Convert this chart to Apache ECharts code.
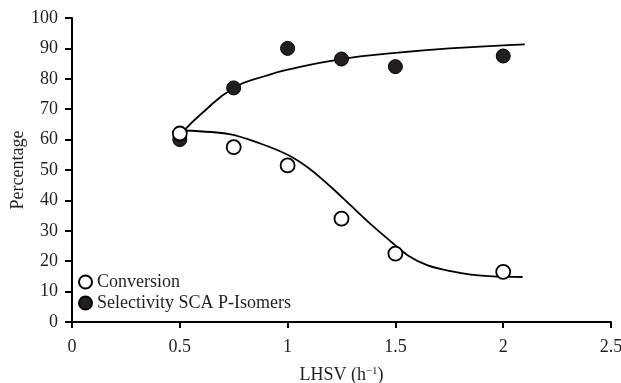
<!DOCTYPE html>
<html>
<head>
	<meta charset="utf-8">
	<script src="https://cdn.jsdelivr.net/npm/echarts@6/dist/echarts.min.js"></script>
	<title>LHSV</title>
</head>
<body>
<style>
	html, body, #main {
		width: 621px;
		height: 383px;
		margin: 0;
	}
</style>
<div id="main"></div>
<script type="text/javascript">
    // measured points
    var conversion = [[0.5, 62], [0.75, 57.5], [1.0, 51.5], [1.25, 34], [1.5, 22.5], [2.0, 16.5]];
    var selectivity = [[0.5, 60], [0.75, 77], [1.0, 90], [1.25, 86.5], [1.5, 84], [2.0, 87.5]];

    // fitted curves
    var conversionFit = [[0.52, 63], [0.73, 61.8], [0.87, 58.8], [1.0, 55], [1.1, 50.5], [1.2, 44.5],
        [1.29, 38.5], [1.38, 32.5], [1.47, 27], [1.56, 21.8], [1.65, 18.6], [1.75, 16.8],
        [1.85, 15.6], [1.95, 15], [2.09, 14.8]];
    var selectivityFit = [[0.52, 63], [0.6, 68.5], [0.75, 77], [0.9, 81], [1.0, 83], [1.25, 86.5],
        [1.5, 88.5], [1.75, 90], [2.0, 91], [2.1, 91.3]];

    var ink = '#231f20';
    var font = 'Liberation Serif';

    var myChart = echarts.init(document.getElementById('main'));

    var option = {
        animation: false,
        textStyle: { fontFamily: font, color: ink },
        grid: { left: 72, right: 10, top: 18, bottom: 61, outerBoundsMode: 'none', containLabel: false },
        legend: {
            orient: 'vertical',
            left: 73,
            top: 268,
            itemWidth: 13,
            itemHeight: 13,
            itemGap: 3,
            textStyle: { fontFamily: font, fontSize: 18, color: ink },
            data: [
                { name: 'Conversion', icon: 'circle' },
                { name: 'Selectivity SCA P-Isomers', icon: 'circle' }
            ]
        },
        xAxis: {
            type: 'value',
            min: 0, max: 2.5, interval: 0.5,
            name: '{t|LHSV (h}{s|−1}{t|)}',
            nameLocation: 'middle',
            nameGap: 44,
            nameMoveOverlap: false,
            nameTextStyle: {
                rich: {
                    t: { fontFamily: font, fontSize: 18, color: ink },
                    s: { fontFamily: font, fontSize: 11, color: ink, verticalAlign: 'top', padding: [0, 0, 8, 0] }
                }
            },
            axisLine: { lineStyle: { color: '#000', width: 2 } },
            axisTick: { length: 6, lineStyle: { color: '#000', width: 2 } },
            axisLabel: { fontFamily: font, fontSize: 18, color: ink, margin: 16 },
            splitLine: { show: false }
        },
        yAxis: {
            type: 'value',
            min: 0, max: 100, interval: 10,
            name: 'Percentage',
            nameLocation: 'middle',
            nameGap: 45,
            nameMoveOverlap: false,
            nameTextStyle: { fontFamily: font, fontSize: 18, color: ink },
            axisLine: { show: true, lineStyle: { color: '#000', width: 2 } },
            axisTick: { show: true, length: 7, lineStyle: { color: '#000', width: 2 } },
            axisLabel: { fontFamily: font, fontSize: 18, color: ink, margin: 14 },
            splitLine: { show: false }
        },
        series: [
            {
                name: 'conversion fit',
                type: 'line',
                data: conversionFit,
                smooth: 0.3,
                showSymbol: false,
                lineStyle: { color: '#000', width: 1.8 },
                z: 1
            },
            {
                name: 'selectivity fit',
                type: 'line',
                data: selectivityFit,
                smooth: true,
                showSymbol: false,
                lineStyle: { color: '#000', width: 1.8 },
                z: 1
            },
            {
                name: 'Conversion',
                type: 'scatter',
                data: conversion,
                symbol: 'circle',
                symbolSize: 14,
                itemStyle: { color: '#fff', borderColor: '#000', borderWidth: 1.8, opacity: 1 },
                z: 3
            },
            {
                name: 'Selectivity SCA P-Isomers',
                type: 'scatter',
                data: selectivity,
                symbol: 'circle',
                symbolSize: 14,
                itemStyle: { color: ink, borderColor: '#000', borderWidth: 1, opacity: 1 },
                z: 2
            }
        ]
    };

    myChart.setOption(option);
</script>
</body>
</html>
